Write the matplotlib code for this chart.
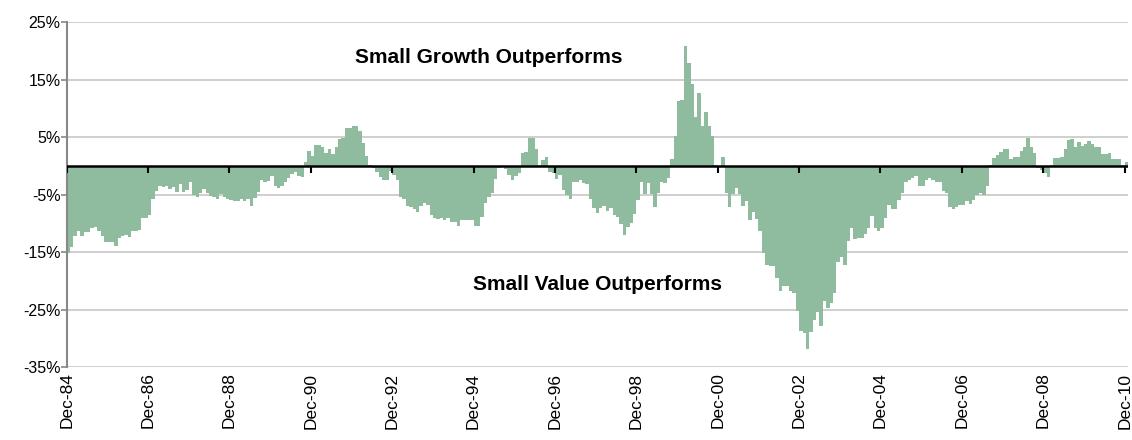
import numpy as np
import matplotlib
matplotlib.use("Agg")
import matplotlib.pyplot as plt

plt.rcParams["font.family"] = ["Liberation Sans", "DejaVu Sans"]

# monthly spread, Dec-84 .. Dec-10 (Small Growth minus Small Value, %)
spread = [
    -15.2, -14.2, -12.3, -11.3, -12.2, -11.5, -11.5, -10.9, -10.6, -11.3,
    -12.2, -13.2, -13.2, -13.2, -14.0, -12.6, -12.3, -12.0, -12.4, -11.3,
    -11.3, -11.2, -9.1, -9.1, -8.6, -5.8, -4.4, -3.5, -3.7, -3.5,
    -4.1, -3.7, -4.6, -3.2, -4.6, -4.3, -2.8, -5.1, -5.4, -4.7,
    -4.1, -4.7, -5.2, -5.5, -5.7, -4.9, -5.5, -5.7, -6.0, -6.2,
    -6.1, -5.8, -6.1, -5.8, -7.0, -5.6, -4.6, -2.4, -2.8, -2.6,
    -1.8, -3.5, -3.8, -3.5, -2.9, -2.2, -1.4, -1.0, -1.8, -1.9,
    0.6, 2.6, 1.7, 3.6, 3.6, 3.2, 2.3, 2.9, 2.0, 3.2,
    4.6, 4.9, 6.5, 6.5, 6.9, 6.9, 6.0, 4.0, 1.7, 0.2,
    -0.45, -1.0, -1.9, -2.4, -2.4, -0.9, -1.6, -2.5, -5.4, -5.8,
    -7.0, -7.2, -7.5, -8.0, -7.0, -6.5, -6.8, -8.6, -9.0, -9.3,
    -9.1, -9.5, -9.0, -9.7, -9.7, -10.4, -9.5, -9.5, -9.5, -9.4,
    -10.4, -10.4, -8.9, -6.4, -5.4, -4.7, -2.3, -0.45, -0.3, -0.6,
    -1.6, -2.5, -1.8, -1.2, 2.2, 2.4, 4.8, 4.8, 2.9, 0.1,
    1.0, 1.6, -1.0, -1.3, -2.3, -1.6, -4.2, -5.1, -5.8, -2.9,
    -2.8, -2.4, -3.0, -3.1, -5.8, -7.4, -8.3, -7.4, -7.0, -7.8,
    -7.3, -8.6, -8.9, -10.1, -12.0, -10.7, -10.0, -8.4, -6.0, -2.9,
    -4.9, -3.0, -4.9, -7.1, -4.7, -2.8, -3.0, -2.2, 1.2, 5.1,
    11.3, 11.4, 20.8, 17.8, 14.3, 8.4, 12.7, 6.9, 9.4, 6.9,
    5.2, 0.1, -0.1, 1.5, -4.7, -7.1, -4.9, -3.9, -4.9, -7.0,
    -6.2, -9.4, -8.0, -9.3, -11.3, -15.2, -17.3, -17.4, -17.4, -19.6,
    -21.7, -20.9, -20.9, -21.7, -22.1, -25.2, -28.7, -29.1, -31.9, -28.9,
    -26.8, -25.4, -27.8, -23.6, -24.8, -23.9, -22.1, -16.8, -15.9, -17.3,
    -13.0, -10.9, -12.7, -12.5, -12.6, -11.9, -10.9, -8.7, -10.9, -11.3,
    -10.9, -9.0, -6.8, -7.6, -7.6, -6.0, -4.7, -2.9, -2.5, -2.2,
    -1.8, -3.6, -3.6, -2.5, -2.2, -2.5, -2.8, -2.8, -4.4, -4.7,
    -7.1, -7.6, -7.2, -6.9, -6.9, -6.2, -6.6, -6.0, -5.1, -4.8,
    -5.1, -3.5, 0.1, 1.4, 1.8, 2.4, 2.9, 2.9, 1.2, 1.6,
    1.6, 2.6, 3.2, 4.9, 3.3, 2.3, -0.45, -0.75, -1.2, -1.9,
    0.1, 1.4, 1.4, 1.6, 2.9, 4.4, 4.65, 3.3, 4.1, 3.5,
    3.8, 4.3, 3.8, 3.3, 3.3, 2.0, 2.1, 2.3, 1.2, 1.1,
    1.1, 0.1, 0.6,
]
year_labels = ["Dec-84", "Dec-86", "Dec-88", "Dec-90", "Dec-92", "Dec-94", "Dec-96",
               "Dec-98", "Dec-00", "Dec-02", "Dec-04", "Dec-06", "Dec-08", "Dec-10"]
y_ticks = [25, 15, 5, -5, -15, -25, -35]

BAR = "#8fbb9f"
GRID = "#cccccc"

months = np.arange(len(spread))
tick_pos = np.arange(len(year_labels)) * 24 - 0.5

fig = plt.figure(figsize=(11.32, 4.40), dpi=100)
ax = fig.add_axes([0.0589, 0.1659, 0.9376, 0.7841])

ax.bar(months, spread, width=1.0, color=BAR, linewidth=0, zorder=2)

for yt in y_ticks:
    ax.axhline(yt, color=GRID, lw=1.3, zorder=1)
ax.axhline(0, color="black", lw=1.8, zorder=3)
ax.vlines(tick_pos, -1.2, 0, color="black", lw=1.5, zorder=3)

ax.set_xlim(-0.5, len(spread) - 0.5)
ax.set_ylim(-35, 25)
ax.set_yticks(y_ticks)
ax.set_yticklabels([f"{v}%" for v in y_ticks], fontsize=11.5)
ax.set_xticks(tick_pos)
ax.set_xticklabels(year_labels, rotation=90, fontsize=12.5)
ax.tick_params(axis="x", length=0, pad=4)
ax.tick_params(axis="y", length=4, width=1.2, color="#888888", pad=0.5)

for s in ("top", "right", "bottom"):
    ax.spines[s].set_visible(False)
ax.spines["left"].set_color("#888888")
ax.spines["left"].set_linewidth(1.5)

ax.text(124, 18.9, "Small Growth Outperforms", ha="center", va="center",
        fontsize=15, fontweight="bold")
ax.text(156, -20.6, "Small Value Outperforms", ha="center", va="center",
        fontsize=15, fontweight="bold")

fig.savefig("out.png", dpi=100)
